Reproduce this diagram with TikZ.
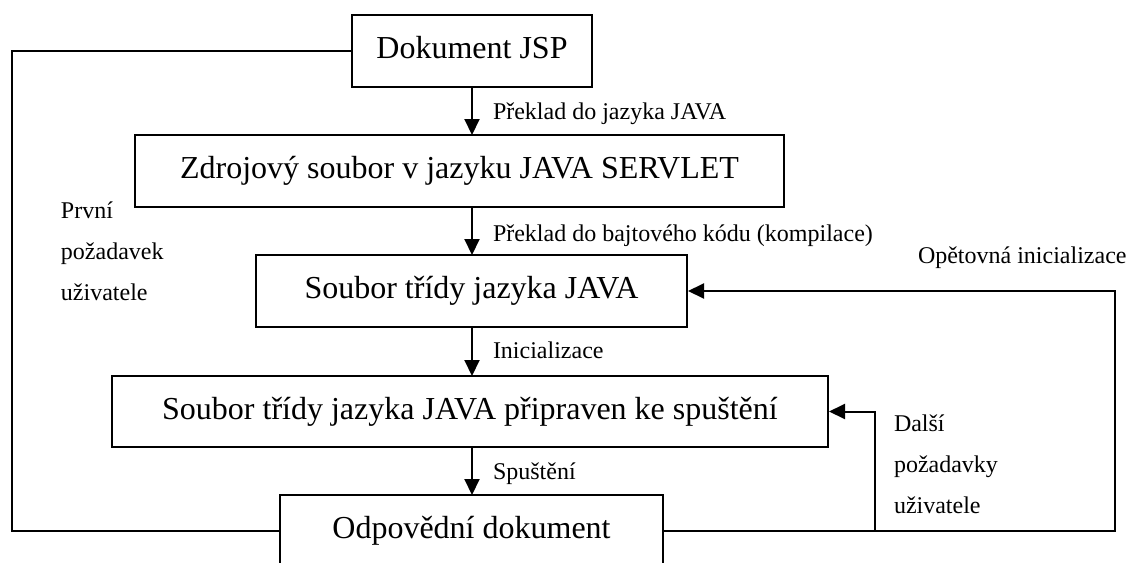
\documentclass[tikz,border=0pt]{standalone}
\usepackage{fontspec}
\setmainfont{Liberation Serif}
\usetikzlibrary{arrows.meta}
\begin{document}
\begin{tikzpicture}[x=0.5pt,y=-0.5pt,
  line width=1pt,
  box/.style={draw,rectangle,inner sep=0pt,
    font=\fontsize{16pt}{19pt}\selectfont,
    text height=11pt,text depth=3.5pt},
  lbl/.style={anchor=base west,inner sep=0pt,
    font=\fontsize{12pt}{14pt}\selectfont},
  arr/.style={-{Triangle[length=8pt,width=7.5pt]}}]
\useasboundingbox (0,0) rectangle (1132,563);
\clip (0,0) rectangle (1132,563);

% process boxes
\node[box,minimum width=120pt,minimum height=36pt] (b1) at (472,51) {Dokument JSP};
\node[box,minimum width=324.5pt,minimum height=36pt] (b2) at (459.5,171) {Zdrojový soubor v jazyku JAVA SERVLET};
\node[box,minimum width=215.5pt,minimum height=36pt] (b3) at (471.5,291) {Soubor třídy jazyka JAVA};
\node[box,minimum width=358pt,minimum height=35.5pt] (b4) at (470,411.5) {Soubor třídy jazyka JAVA připraven ke spuštění};
\node[box,minimum width=191.5pt,minimum height=36pt] (b5) at (471.5,531) {Odpovědní dokument};

% main chain
\coordinate (c2t) at (472,135);
\coordinate (c2b) at (472,207);
\coordinate (c3t) at (472,255);
\coordinate (c3b) at (472,327);
\coordinate (c4t) at (472,376);
\coordinate (c4b) at (472,447);
\coordinate (c5t) at (472,495);
\draw[arr] (b1.south) -- (c2t);
\draw[arr] (c2b) -- (c3t);
\draw[arr] (c3b) -- (c4t);
\draw[arr] (c4b) -- (c5t);

% loops
\coordinate (L) at (12,51);
\coordinate (R) at (1115,531);
\coordinate (M) at (875,531);
\draw (b1.west) -- (L) |- (b5.west);
\draw[arr] (b5.east) -- (R) |- (b3.east);
\draw[arr] (M) |- (b4.east);

% labels
\node[lbl] (t1) at (492,119) {Překlad do jazyka JAVA};
\node[lbl] (t2) at (492,241) {Překlad do bajtového kódu (kompilace)};
\node[lbl] (t3) at (492,358) {Inicializace};
\node[lbl] (t4) at (492,479) {Spuštění};
\node[lbl] (t5) at (917,263) {Opětovná inicializace};
\node[lbl] (p1) at (60,218) {První};
\node[lbl] (p2) at (60,259) {požadavek};
\node[lbl] (p3) at (60,300) {uživatele};
\node[lbl] (d1) at (893,431) {Další};
\node[lbl] (d2) at (893,472) {požadavky};
\node[lbl] (d3) at (893,513) {uživatele};
\end{tikzpicture}
\end{document}
